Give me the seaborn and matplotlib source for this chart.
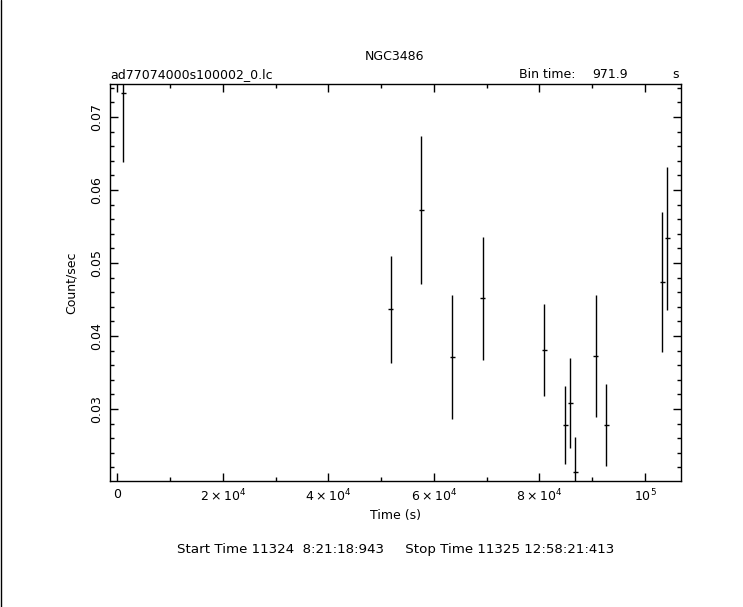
import numpy as np
import pandas as pd
import matplotlib
matplotlib.use("Agg")
import matplotlib.pyplot as plt
import seaborn as sns
from matplotlib.ticker import MultipleLocator, FixedLocator, FixedFormatter
from matplotlib.lines import Line2D

# light curve values
time_s = [1140, 51810, 57610, 63480, 69240, 80920, 84900, 85840, 86790,
          90660, 92670, 103280, 104230]
rate = [0.07325, 0.04366, 0.05726, 0.03708, 0.04516, 0.03808, 0.02781,
        0.03082, 0.02137, 0.03726, 0.02781, 0.04736, 0.05338]
rate_err = [0.00945, 0.00731, 0.01007, 0.00851, 0.00845, 0.00628, 0.00538,
            0.00610, 0.00480, 0.00838, 0.00557, 0.00959, 0.00977]
bin_time = 971.9

x_ticks = [0, 20000, 40000, 60000, 80000, 100000]
x_labels = ["0", r"$2\times10^4$", r"$4\times10^4$", r"$6\times10^4$",
            r"$8\times10^4$", r"$10^5$"]
y_ticks = [0.03, 0.04, 0.05, 0.06, 0.07]
y_labels = ["0.03", "0.04", "0.05", "0.06", "0.07"]

df = pd.DataFrame({"time": time_s, "rate": rate, "err": rate_err})

sns.set_theme(style="ticks")
plt.rcParams["font.family"] = ["DejaVu Sans"]
plt.rcParams["mathtext.fontset"] = "dejavusans"
plt.rcParams["text.color"] = "black"
plt.rcParams["axes.labelcolor"] = "black"

fig = plt.figure(figsize=(7.43, 6.07), dpi=100)
ax = fig.add_axes([110 / 743, 1 - 481 / 607, 571 / 743, 397 / 607])

ax.errorbar(df["time"], df["rate"], yerr=df["err"], xerr=bin_time / 2,
            fmt="none", ecolor="black", elinewidth=1.0, capsize=0)

ax.set_xlim(-1380, 106820)
ax.set_ylim(0.02014, 0.07452)

ax.xaxis.set_major_locator(FixedLocator(x_ticks))
ax.xaxis.set_major_formatter(FixedFormatter(x_labels))
ax.xaxis.set_minor_locator(MultipleLocator(10000))
ax.yaxis.set_major_locator(FixedLocator(y_ticks))
ax.yaxis.set_major_formatter(FixedFormatter(y_labels))
ax.yaxis.set_minor_locator(MultipleLocator(0.002))

ax.tick_params(which="both", direction="in", top=True, right=True,
               colors="black", labelcolor="black", width=1.0, labelsize=9, pad=5)
ax.tick_params(which="major", length=6)
ax.tick_params(which="minor", length=3)
for lab in ax.get_yticklabels():
    lab.set_rotation(90)
    lab.set_va("center")
for sp in ax.spines.values():
    sp.set_color("black")
    sp.set_linewidth(1.0)

ax.set_xlabel("Time (s)", fontsize=9, labelpad=3)
ax.set_ylabel("Count/sec", fontsize=9, labelpad=9)

fig.text(395 / 743, 1 - 56 / 607, "NGC3486", ha="center", va="center", fontsize=9)
fig.text(110 / 743, 1 - 75 / 607, "ad77074000s100002_0.lc", ha="left", va="center", fontsize=9)
fig.text(519 / 743, 1 - 75 / 607, "Bin time:", ha="left", va="center", fontsize=9)
fig.text(628 / 743, 1 - 75 / 607, "971.9", ha="right", va="center", fontsize=9)
fig.text(676 / 743, 1 - 75 / 607, "s", ha="center", va="center", fontsize=9)
fig.text(396 / 743, 1 - 549 / 607,
         "Start Time 11324  8:21:18:943     Stop Time 11325 12:58:21:413",
         ha="center", va="center", fontsize=9.6)

# thin frame line on the left edge of the image
fig.add_artist(Line2D([0.5 / 743, 0.5 / 743], [0, 1], color="black", linewidth=1.0,
                      transform=fig.transFigure))

fig.savefig("out.png", dpi=100, facecolor="white")
